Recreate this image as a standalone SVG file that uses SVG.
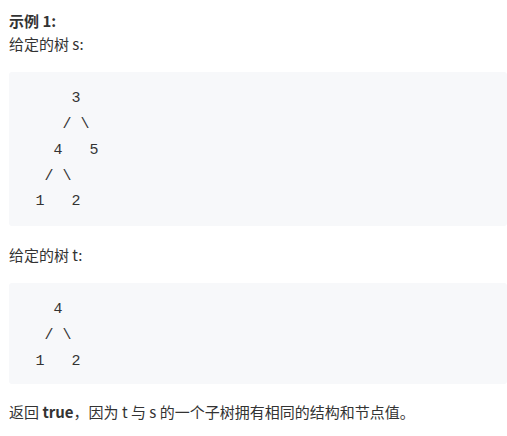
<svg xmlns="http://www.w3.org/2000/svg" width="507" height="436" viewBox="0 0 507 436">
<style>
.t{font-family:"Noto Sans CJK SC","Liberation Sans",sans-serif;font-size:15px;fill:#333333}
.b{font-weight:bold}
.box{fill:#f7f8fa}
.c{font-family:"Liberation Mono","DejaVu Sans Mono",monospace;font-size:15px;fill:#333333;white-space:pre}
</style>
<rect width="507" height="436" fill="#ffffff"/>
<g id="title"><text class="t b" x="9" y="27">示例 1:</text></g>
<g id="label-s"><text class="t" x="9" y="50">给定的树 s:</text></g>
<g id="tree-s">
<rect class="box" x="9" y="72" width="498" height="154" rx="3"/>
<text class="c" x="35.5" y="102" xml:space="preserve">    3</text>
<text class="c" x="35.5" y="128" xml:space="preserve">   / \</text>
<text class="c" x="35.5" y="154" xml:space="preserve">  4   5</text>
<text class="c" x="35.5" y="180" xml:space="preserve"> / \</text>
<text class="c" x="35.5" y="205" xml:space="preserve">1   2</text>
</g>
<g id="label-t"><text class="t" x="9" y="261">给定的树 t:</text></g>
<g id="tree-t">
<rect class="box" x="9" y="283" width="498" height="101" rx="3"/>
<text class="c" x="35.5" y="313" xml:space="preserve">  4</text>
<text class="c" x="35.5" y="339" xml:space="preserve"> / \</text>
<text class="c" x="35.5" y="365" xml:space="preserve">1   2</text>
</g>
<g id="result"><text class="t" x="9" y="418">返回 <tspan class="b">true</tspan>，因为 t 与 s 的一个子树拥有相同的结构和节点值。</text></g>
</svg>
